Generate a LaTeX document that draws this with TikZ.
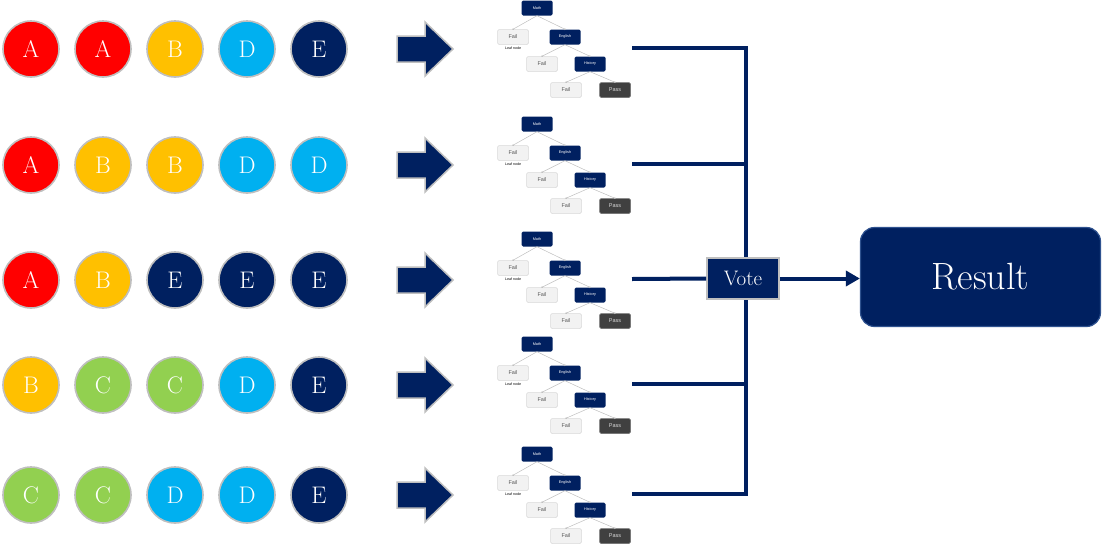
\documentclass[tikz,border=0pt]{standalone}
\usepackage{fontspec}
\newfontfamily\treefont{Liberation Sans}
\usetikzlibrary{arrows.meta}
\definecolor{navy}{HTML}{002060}
\definecolor{cA}{HTML}{FF0000}
\definecolor{cB}{HTML}{FFC000}
\definecolor{cC}{HTML}{92D050}
\definecolor{cD}{HTML}{00B0F0}
\definecolor{cE}{HTML}{002060}
\definecolor{rim}{HTML}{BFBFBF}
\definecolor{failfill}{HTML}{F2F2F2}
\definecolor{failrim}{HTML}{D9D9D9}
\definecolor{passfill}{HTML}{404040}
\definecolor{resrim}{HTML}{2F528F}
\tikzset{
  circ/.style={circle, draw=rim, line width=1.6pt, minimum size=56pt, inner sep=0pt,
    text=white, font=\fontsize{24}{24}\selectfont},
  bigarrow/.style={fill=navy, draw=rim, line width=1.5pt, line join=miter},
  tbox/.style={rounded corners=1.5pt, minimum width=31pt, minimum height=15pt, inner sep=0pt},
  tn/.style={tbox, fill=navy, text=white, font=\treefont\fontsize{3.8}{4}\selectfont},
  tf/.style={tbox, fill=failfill, draw=failrim, line width=0.5pt, text=black!65, font=\treefont\fontsize{5.5}{6}\selectfont},
  tp/.style={tbox, fill=passfill, draw=black!55, line width=0.5pt, text=white!85!black, font=\treefont\fontsize{5.5}{6}\selectfont},
  leaflab/.style={inner sep=0pt, font=\treefont\fontsize{3.6}{4}\selectfont},
  tline/.style={draw=black!25, line width=0.5pt, -{Circle[length=1.6pt]}, shorten >=-0.6pt},
  bus/.style={draw=navy, line width=4pt},
  votebox/.style={fill=navy, draw=rim, line width=1.8pt, minimum width=72pt, minimum height=41pt,
    text=white, font=\fontsize{21}{21}\selectfont, inner sep=0pt},
  resbox/.style={fill=navy, draw=resrim, line width=1.2pt, rounded corners=14pt,
    minimum width=240pt, minimum height=99pt, text=white, font=\fontsize{38}{38}\selectfont, inner sep=0pt},
}
\newcommand{\dtree}[2]{%
  \node[tn] (#1m) at (537,{#2}) {Math};
  \node[tf] (#1f1) at (513,{#2+29}) {Fail};
  \node[leaflab] (#1lf) at (513,{#2+40.5}) {Leaf node};
  \node[tn] (#1e) at (565,{#2+29}) {English};
  \node[tf] (#1f2) at (542,{#2+56}) {Fail};
  \node[tn] (#1h) at (590,{#2+56}) {History};
  \node[tf] (#1f3) at (566,{#2+82}) {Fail};
  \node[tp] (#1p) at (615,{#2+82}) {Pass};
  \draw[tline] (#1m.south) -- (#1f1.north);
  \draw[tline] (#1m.south) -- (#1e.north);
  \draw[tline] (#1e.south) -- (#1f2.north);
  \draw[tline] (#1e.south) -- (#1h.north);
  \draw[tline] (#1h.south) -- (#1f3.north);
  \draw[tline] (#1h.south) -- (#1p.north);
}
\begin{document}
\begin{tikzpicture}[x=1pt,y=-1pt]
\useasboundingbox (0,0) rectangle (1102,544);
\foreach \y/\a/\b/\c/\d/\e [count=\r] in {49/A/A/B/D/E, 165/A/B/B/D/D, 280/A/B/E/E/E, 385/B/C/C/D/E, 495/C/C/D/D/E} {
  \node[circ, fill=c\a] (k\r a) at (31,\y) {\a};
  \node[circ, fill=c\b] (k\r b) at (103,\y) {\b};
  \node[circ, fill=c\c] (k\r c) at (175,\y) {\c};
  \node[circ, fill=c\d] (k\r d) at (247,\y) {\d};
  \node[circ, fill=c\e] (k\r e) at (319,\y) {\e};
  \draw[bigarrow] (397,\y-13) -- (425,\y-13) -- (425,\y-27) -- (453,\y) -- (425,\y+27) -- (425,\y+13) -- (397,\y+13) -- cycle;
  \dtree{t\r}{\y-41}
  \coordinate (h\r) at (632,\y-1);
}
\coordinate (c5) at (746,494);
\draw[bus] (h1) -| (c5) -- (h5);
\draw[bus] (h2) -- (h2 -| c5);
\draw[bus] (h4) -- (h4 -| c5);
\node[votebox] (vote) at (743,278.5) {Vote};
\draw[bus] (h3) -- (vote.west);
\node[resbox] (result) at (980.5,277) {Result};
\draw[bus, -{Triangle[length=14pt,width=15pt]}] (vote.east) -- (vote.east -| result.west);
\end{tikzpicture}
\end{document}
